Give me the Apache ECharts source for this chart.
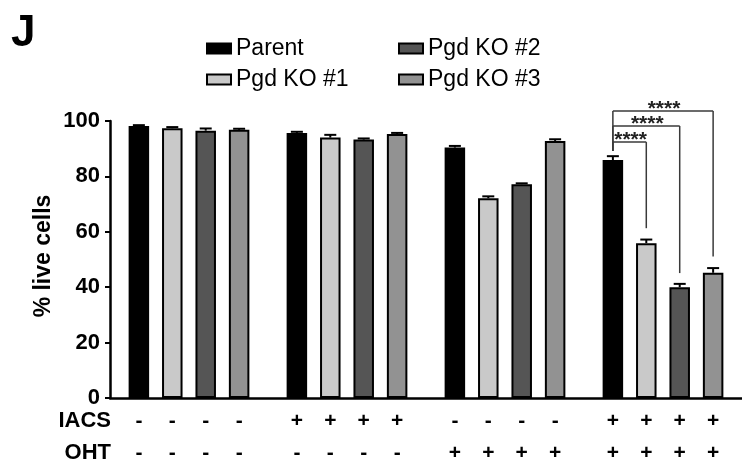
<!DOCTYPE html>
<html><head><meta charset="utf-8">
<script src="https://cdn.jsdelivr.net/npm/echarts@6/dist/echarts.min.js"></script>
<style>html,body{margin:0;padding:0;background:#fff}#c{width:742px;height:464px}</style>
</head><body><div id="c"></div>
<script>
// ---- data ----
const groups = ['g1', 'g2', 'g3', 'g4'];
const seriesNames = ['Parent', 'Pgd KO #1', 'Pgd KO #2', 'Pgd KO #3'];
const parentVals = [98.2, 95.7, 90.4, 85.9];
const ko1Vals = [97.4, 94.0, 72.1, 55.9];
const ko2Vals = [96.5, 93.3, 77.2, 40.0];
const ko3Vals = [96.8, 95.3, 92.8, 45.2];
const parentErr = [0.3, 0.4, 0.6, 1.4];
const ko1Err = [0.4, 1.0, 0.7, 1.3];
const ko2Err = [0.8, 0.4, 0.3, 1.2];
const ko3Err = [0.4, 0.4, 0.6, 1.7];
const iacsSigns = ['-', '+', '-', '+'];
const ohtSigns = ['-', '-', '+', '+'];
const rowLabels = ['IACS', 'OHT'];
const yAxisTitle = '% live cells';
const yTicks = [0, 20, 40, 60, 80, 100];
// significance brackets (group 4): Parent vs KO#1, KO#2, KO#3
const sigGroup = 3;
const sigTargets = [1, 2, 3];
const sigLabels = ['****', '****', '****'];
const sigTop = [92.4, 98.2, 103.6];
const sigEnd = [61.3, 45.1, 51.1];
const sigStart = 89.2;

// ---- style ----
const colors = ['#000000', '#c9c9c9', '#555555', '#929292'];
const BAR_W = 20.5, BAR_GAP = 0.63;
const FONT = '"Liberation Sans", Arial, sans-serif';
const offsetOf = s => (s - 1.5) * BAR_W * (1 + BAR_GAP);

const vals = [parentVals, ko1Vals, ko2Vals, ko3Vals];
const errs = [parentErr, ko1Err, ko2Err, ko3Err];

const barSeries = seriesNames.map((n, i) => ({
  type: 'bar', name: n, data: vals[i],
  barWidth: BAR_W, barGap: (BAR_GAP * 100) + '%',
  itemStyle: { color: colors[i], borderColor: '#000', borderWidth: 2 },
  emphasis: { disabled: true }, z: 2
}));

const errData = [];
vals.forEach((arr, s) => arr.forEach((v, g) => errData.push([g, s, v, errs[s][g]])));

const errSeries = {
  type: 'custom', name: 'err', data: errData, encode: { x: 0, y: 2 }, clip: false, z: 3,
  renderItem: (params, api) => {
    const g = api.value(0), s = api.value(1), v = api.value(2), e = api.value(3);
    const b = api.coord([g, v]), t = api.coord([g, v + e]);
    const x = b[0] + offsetOf(s);
    return { type: 'group', children: [
      { type: 'line', shape: { x1: x, y1: b[1], x2: x, y2: t[1] }, style: { stroke: '#000', lineWidth: 2 } },
      { type: 'line', shape: { x1: x - 6, y1: t[1], x2: x + 6, y2: t[1] }, style: { stroke: '#000', lineWidth: 2 } }
    ]};
  }
};

const sigData = sigTargets.map((t, i) => [sigGroup, t, sigTop[i], sigEnd[i], i]);
const sigSeries = {
  type: 'custom', name: 'sig', data: sigData, encode: { x: 0, y: 2 }, clip: false, z: 4,
  renderItem: (params, api) => {
    const g = api.value(0), t = api.value(1), top = api.value(2), end = api.value(3), i = api.value(4);
    const c = api.coord([g, top]);
    const x1 = c[0] + offsetOf(0), x2 = c[0] + offsetOf(t);
    const yT = c[1], yS = api.coord([g, sigStart])[1], yE = api.coord([g, end])[1];
    const st = { stroke: '#3a3a3a', lineWidth: 1.5 };
    return { type: 'group', children: [
      { type: 'line', shape: { x1: x1, y1: yS, x2: x1, y2: yT }, style: st },
      { type: 'line', shape: { x1: x1, y1: yT, x2: x2, y2: yT }, style: st },
      { type: 'line', shape: { x1: x2, y1: yT, x2: x2, y2: yE }, style: st },
      { type: 'text', style: { text: sigLabels[i], x: (x1 + x2) / 2 + 1, y: yT - 2,
        align: 'center', verticalAlign: 'middle', textAlign: 'center', textVerticalAlign: 'middle',
        font: 'bold 21px ' + FONT, fill: '#222' } }
    ]};
  }
};

const signData = [];
groups.forEach((gName, g) => { for (let s = 0; s < 4; s++) { signData.push([g, s, 0]); signData.push([g, s, 1]); } });
const signSeries = {
  type: 'custom', name: 'signs', data: signData, encode: { x: 0, y: 2 }, clip: false, z: 4,
  renderItem: (params, api) => {
    const g = api.value(0), s = api.value(1), r = api.value(2);
    const p = api.coord([g, 0]);
    const txt = r === 0 ? iacsSigns[g] : ohtSigns[g];
    return { type: 'text', style: { text: txt, x: p[0] + offsetOf(s), y: p[1] + (r === 0 ? 23 : 55),
      align: 'center', verticalAlign: 'middle', textAlign: 'center', textVerticalAlign: 'middle',
      font: 'bold 21px ' + FONT, fill: '#000' } };
  }
};

const legendBase = {
  orient: 'vertical', top: 37, padding: 0, itemWidth: 24, itemHeight: 10, itemGap: 8,
  selectedMode: false, icon: 'rect',
  textStyle: { fontSize: 23, fontFamily: FONT, color: '#000', lineHeight: 22 }
};

const option = {
  animation: false,
  backgroundColor: '#fff',
  grid: { left: 110, right: 0, top: 121, bottom: 66, containLabel: false },
  legend: [
    Object.assign({}, legendBase, { left: 206, data: [seriesNames[0], seriesNames[1]] }),
    Object.assign({}, legendBase, { left: 398, data: [seriesNames[2], seriesNames[3]] })
  ],
  xAxis: {
    type: 'category', data: groups, boundaryGap: true,
    axisLine: { lineStyle: { color: '#000', width: 2.5 } },
    axisTick: { show: false }, axisLabel: { show: false }
  },
  yAxis: {
    type: 'value', min: yTicks[0], max: yTicks[yTicks.length - 1], interval: yTicks[1] - yTicks[0],
    axisLine: { show: true, lineStyle: { color: '#000', width: 2.5 } },
    axisTick: { show: true, length: 5, lineStyle: { color: '#000', width: 2 } },
    splitLine: { show: false },
    axisLabel: { fontSize: 22, fontWeight: 'bold', fontFamily: FONT, color: '#000', margin: 10 }
  },
  graphic: [
    { type: 'text', x: 11, y: 34, style: { text: 'J', font: 'bold 44px ' + FONT, fill: '#000',
      align: 'left', verticalAlign: 'middle', textAlign: 'left', textVerticalAlign: 'middle' } },
    { type: 'text', x: 44, y: 256, rotation: Math.PI / 2, style: { text: yAxisTitle, font: 'bold 23px ' + FONT, fill: '#000',
      align: 'center', verticalAlign: 'middle', textAlign: 'center', textVerticalAlign: 'middle' } },
    { type: 'text', x: 111, y: 421, style: { text: rowLabels[0], font: 'bold 22px ' + FONT, fill: '#000',
      align: 'right', verticalAlign: 'middle', textAlign: 'right', textVerticalAlign: 'middle' } },
    { type: 'text', x: 111, y: 453, style: { text: rowLabels[1], font: 'bold 22px ' + FONT, fill: '#000',
      align: 'right', verticalAlign: 'middle', textAlign: 'right', textVerticalAlign: 'middle' } }
  ],
  series: barSeries.concat([errSeries, sigSeries, signSeries])
};

const chart = echarts.init(document.getElementById('c'), null, { renderer: 'canvas' });
chart.setOption(option);
</script>
</body></html>
